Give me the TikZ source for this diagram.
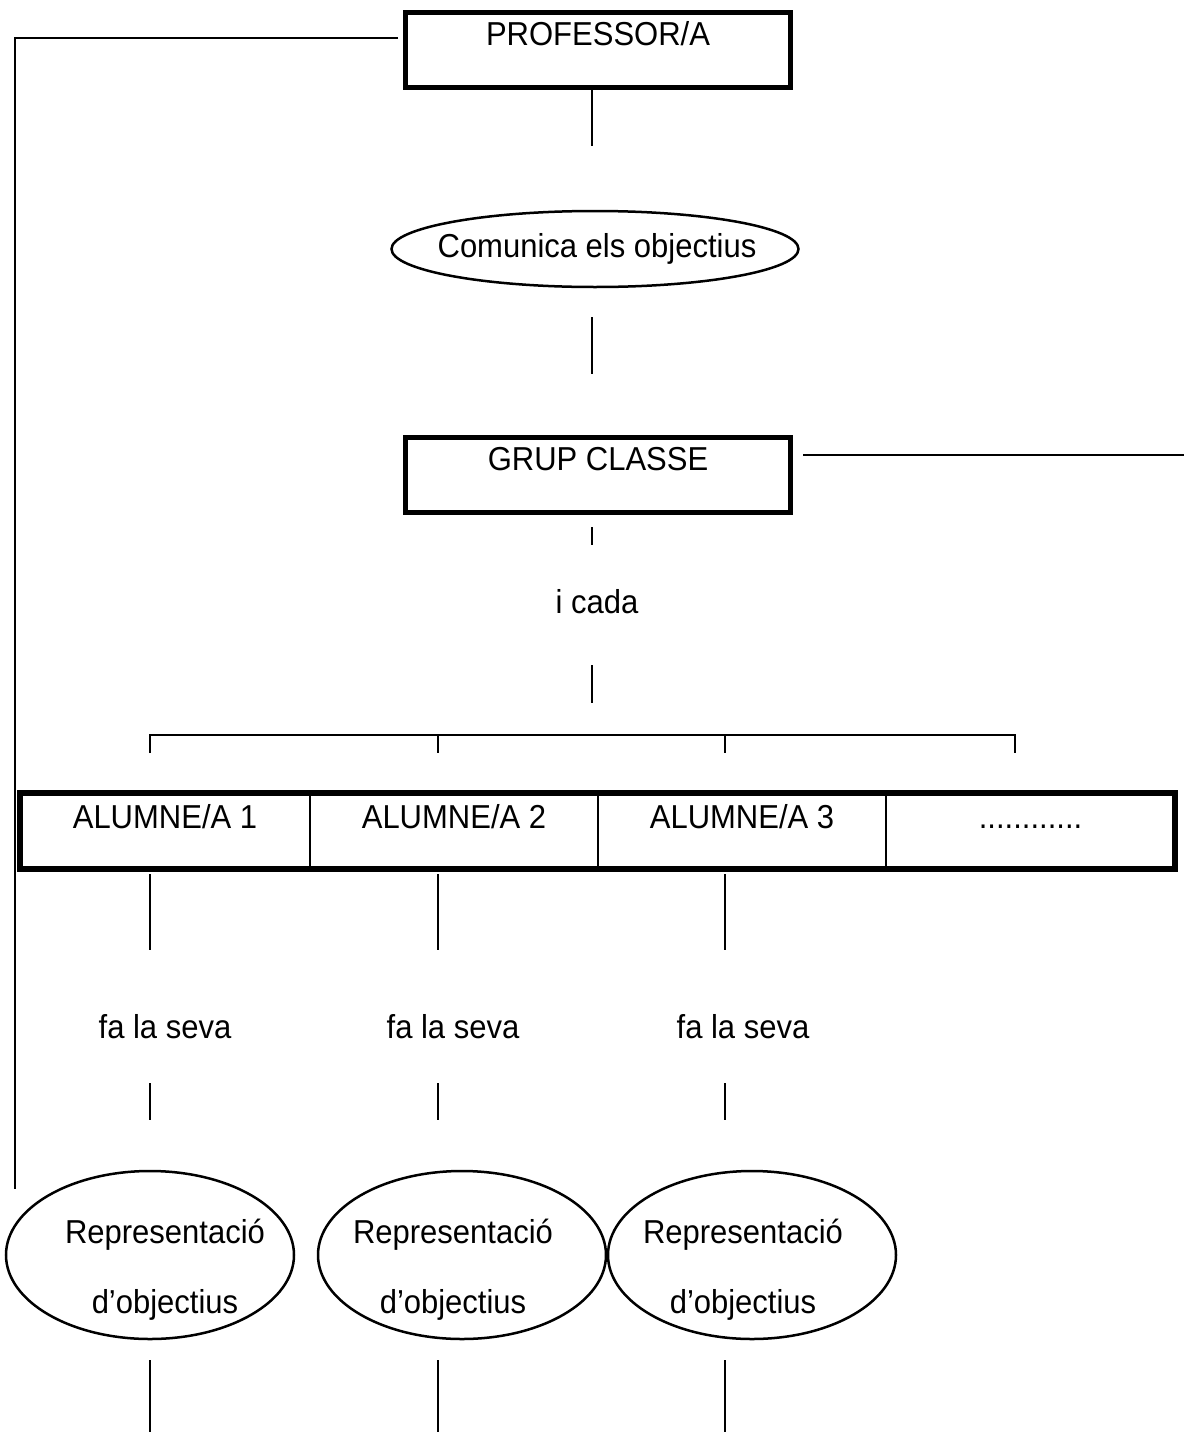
\documentclass[tikz,border=0pt]{standalone}
\usepackage{fontspec}
\setmainfont{Liberation Sans}
\usetikzlibrary{shapes.geometric}

% slightly tall lettering
\newcommand\tallword[1]{\scalebox{1}[1.07]{#1}}

\begin{document}
\begin{tikzpicture}[x=1pt,y=-1pt,
  every node/.style={font=\fontsize{31}{37}\selectfont, inner sep=0pt, outer sep=0pt},
  heavybox/.style={draw, line width=5pt, minimum width=385pt,
                   text height=33pt, text depth=42pt, anchor=base},
  cell/.style={draw, line width=1.5pt, text height=35pt, text depth=41pt, anchor=base},
  oval/.style={draw, ellipse, line width=2.5pt},
  caption/.style={anchor=base},
  link/.style={line width=2pt},
  frame/.style={line width=2.5pt}]

\useasboundingbox (0,0) rectangle (1184,1432);

% teacher and class boxes
\node[heavybox] (prof) at (598,45) {\tallword{PROFESSOR/A}};
\node[oval, minimum width=407pt, minimum height=76pt] (comunica) at (595,249) {};
\node[caption] (comunicaText) at (597,257) {\tallword{Comunica els objectius}};
\node[heavybox] (grup) at (598,470) {\tallword{GRUP CLASSE}};
\node[caption] (icada) at (597,613) {\tallword{i cada}};

% row of students
\node[cell, minimum width=290pt] (c1) at (165,828) {\tallword{ALUMNE/A 1}};
\node[cell, minimum width=288pt] (c2) at (454,828) {\tallword{ALUMNE/A 2}};
\node[cell, minimum width=288pt] (c3) at (742,828) {\tallword{ALUMNE/A 3}};
\node[cell, minimum width=289pt] (c4) at (1030.5,828) {\tallword{............}};
\draw[line width=6pt] (c1.north west) rectangle (c4.south east);

% each student's own representation
\foreach \n/\tx/\ex in {1/165/150, 2/453/462, 3/743/752} {
  \node[caption] (seva\n) at (\tx,1038) {\tallword{fa la seva}};
  \node[oval, minimum width=288pt, minimum height=168pt] (rep\n) at (\ex,1255) {};
  \node[caption] (repA\n) at (\tx,1243) {\tallword{Representació}};
  \node[caption] (repB\n) at (\tx,1313) {\tallword{d’objectius}};
}

% vertical links in the centre column
\draw[link] (592,90) coordinate (profFoot) -- (592,146) coordinate (comunicaHead);
\draw[link] (592,317) coordinate (comunicaFoot) -- (592,374) coordinate (grupHead);
\draw[link] (592,527) coordinate (grupFoot) -- (592,545) coordinate (icadaHead);
\draw[link] (592,665) coordinate (icadaFoot) -- (592,703) coordinate (forkHead);

% fork over the students
\draw[link] (150,753) coordinate (forkA) -- (150,735) -- (1015,735) -- (1015,753) coordinate (forkD);
\draw[link] (438,735) -- (438,753) coordinate (forkB);
\draw[link] (725,735) -- (725,753) coordinate (forkC);

% links below each student
\foreach \n/\x in {1/150, 2/438, 3/725} {
  \draw[link] (\x,874) coordinate (cellFoot\n) -- (\x,950) coordinate (sevaHead\n);
  \draw[link] (\x,1083) coordinate (sevaFoot\n) -- (\x,1120) coordinate (repHead\n);
  \draw[link] (\x,1360) coordinate (repFoot\n) -- (\x,1432) coordinate (repEnd\n);
}

% side lines
\draw[frame] (398,38) coordinate (profSide) -- (15,38) coordinate (sideCorner)
             -- (15,1189) coordinate (sideFoot);
\draw[frame] (803,455) coordinate (grupSide) -- (1184,455) coordinate (grupEnd);

\end{tikzpicture}
\end{document}
